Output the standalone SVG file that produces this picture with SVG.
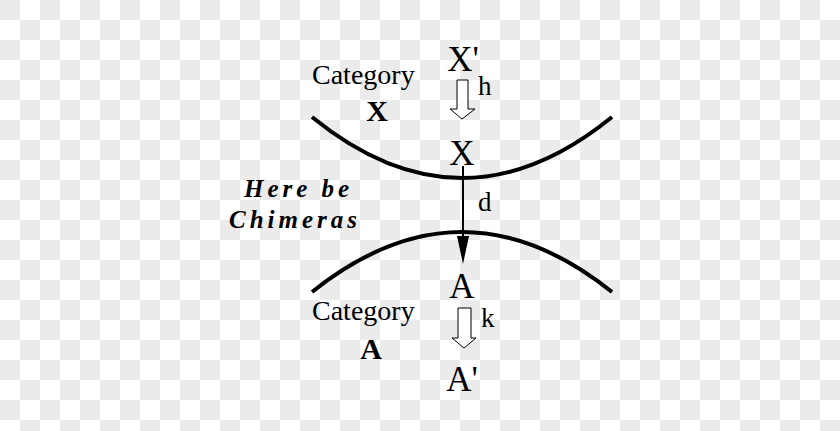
<svg xmlns="http://www.w3.org/2000/svg" width="840" height="431" viewBox="0 0 840 431">
<defs>
<pattern id="chk" width="40" height="40" patternUnits="userSpaceOnUse"><rect width="40" height="40" fill="#ffffff"/><rect width="20" height="20" fill="#ebebeb"/><rect x="20" y="20" width="20" height="20" fill="#ebebeb"/></pattern>
<style>
text{font-family:"Liberation Serif","Times New Roman",serif;fill:#000}
.big{font-size:35px;text-anchor:middle}
.cat{font-size:28px}
.b{font-size:30px;font-weight:bold;text-anchor:middle}
.lbl{font-size:27px}
.goth{font-size:25px;font-weight:bold;font-style:italic;letter-spacing:4px}
.curve{fill:none;stroke:#000;stroke-width:4}
.hollow{fill:#fff;stroke:#000;stroke-width:1}
</style>
</defs>
<rect width="840" height="431" fill="url(#chk)"/>
<g id="catX"><path class="curve" d="M312,117 Q462,239 612,117"/></g>
<g id="catA"><path class="curve" d="M312,292 Q462,172 612,292"/></g>
<g id="labels">
<text class="cat" x="312" y="84">Category</text>
<text class="b" x="377" y="121">X</text>
<text class="cat" x="312" y="320">Category</text>
<text class="b" x="371" y="359">A</text>
<text class="goth" x="244" y="197">Here be</text>
<text class="goth" x="229" y="228">Chimeras</text>
</g>
<g id="Xp"><text class="big" x="463" y="71">X'</text></g>
<g id="X"><text class="big" x="462" y="165">X</text></g>
<g id="A"><text class="big" x="462" y="298">A</text></g>
<g id="Ap"><text class="big" x="462" y="391">A'</text></g>
<g id="connectors">
<path class="hollow" d="M457,80 H468 V109 H475 L462,119 L450,109 H457 Z"/>
<text class="lbl" x="478" y="95">h</text>
<line x1="463" y1="166" x2="463" y2="248" stroke="#000" stroke-width="2"/>
<path d="M457,236 L469,236 L463,264 Z" fill="#000"/>
<text class="lbl" x="478" y="211">d</text>
<path class="hollow" d="M458,308 H471 V338 H476 L464,348 L452,338 H458 Z"/>
<text class="lbl" x="481" y="327">k</text>
</g>
</svg>
